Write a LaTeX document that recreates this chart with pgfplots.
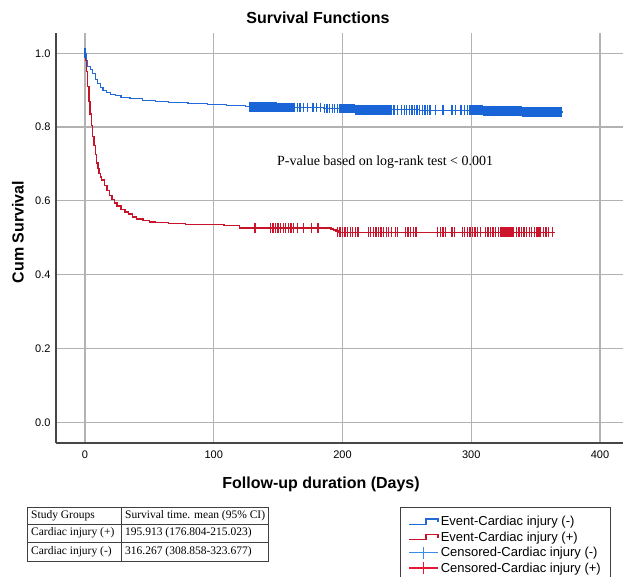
\documentclass[border=0pt]{standalone}
\usepackage{pgfplots}
\pgfplotsset{compat=1.18}
\usepackage{fontspec}
\setmainfont{Liberation Sans}
\newfontfamily\timesf{Liberation Serif}
\definecolor{kmblue}{RGB}{35,105,215}
\definecolor{kmred}{RGB}{200,20,40}
\definecolor{cblue}{RGB}{25,100,215}
\definecolor{cred}{RGB}{205,20,45}
\definecolor{cblueL}{RGB}{55,140,230}
\definecolor{credL}{RGB}{230,25,50}
\definecolor{gridgray}{RGB}{178,178,178}
\definecolor{spine}{RGB}{70,70,70}
\begin{document}
\begin{tikzpicture}[x=1pt,y=1pt]
\useasboundingbox (0,0) rectangle (623,577);
\begin{axis}[
  at={(56pt,134pt)}, anchor=south west,
  width=567pt, height=410pt, scale only axis,
  xmin=-22.5, xmax=417.9, ymin=-0.0561, ymax=1.055,
  axis x line*=bottom, axis y line*=left,
  axis line style={-, draw=spine, line width=1.5pt},
  xtick={0,100,200,300,400}, ytick={0,0.2,0.4,0.6,0.8,1},
  xticklabels={0,100,200,300,400}, yticklabels={0.0,0.2,0.4,0.6,0.8,1.0},
  major tick length=0pt,
  grid=major, major grid style={draw=gridgray, line width=1.2pt},
  tick label style={font=\fontsize{11}{13}\selectfont},
  xticklabel style={yshift=-4pt},
  yticklabel style={xshift=-2pt},
  clip=false,
  legend style={at={(0.6067,-0.156)}, anchor=north west, draw=black!75, line width=0.8pt,
    fill=white, font=\fontsize{13}{16}\selectfont, inner xsep=8pt, inner ysep=7pt,
    row sep=0.5pt, cells={anchor=west}},
]
\addplot[kmblue, line width=1.1pt, const plot,
  legend image code/.code={\draw[draw=kmblue, line width=1.4pt] (0pt,-2.5pt) -- (17pt,-2.5pt) -- (17pt,3pt) -- (29pt,3pt) -- (29pt,-0.5pt);}]
coordinates {(0,1)(1,0.98)(2,0.965)(4,0.955)(6,0.945)(8,0.93)(10,0.918)(12,0.908)(14,0.9)(17,0.894)(20,0.889)(24,0.885)(28,0.881)(35,0.877)(45,0.873)(55,0.869)(65,0.866)(80,0.864)(95,0.861)(110,0.858)(125,0.855)(150,0.853)(185,0.85)(210,0.847)(260,0.846)(310,0.844)(340,0.841)(371,0.841)};
\addlegendentry{Event-Cardiac injury (-)}
\addplot[kmred, line width=1.4pt, const plot,
  legend image code/.code={\draw[draw=kmred, line width=1.4pt] (0pt,-2.5pt) -- (17pt,-2.5pt) -- (17pt,3pt) -- (29pt,3pt) -- (29pt,-0.5pt);}]
coordinates {(0,1)(0.5,0.98)(1,0.95)(2,0.91)(3,0.87)(4,0.835)(5,0.805)(6,0.775)(7,0.75)(8,0.725)(9,0.703)(10,0.688)(11,0.675)(12,0.665)(13,0.657)(15,0.642)(17,0.628)(19,0.615)(21,0.603)(23,0.594)(25,0.586)(28,0.577)(31,0.570)(34,0.564)(37,0.556)(40,0.551)(45,0.547)(50,0.543)(55,0.541)(65,0.539)(78,0.536)(108,0.533)(120,0.527)(191,0.524)(193,0.521)(195,0.518)(197,0.515)(365,0.515)};
\addlegendentry{Event-Cardiac injury (+)}
\addplot[only marks, mark=|, mark size=4.8pt, mark options={cblue, line width=1.3pt},
  legend image code/.code={\draw[draw=cblueL, line width=1.4pt] (0pt,0pt) -- (29pt,0pt) (14.5pt,-6pt) -- (14.5pt,6pt);}]
coordinates {(0,1)
(128,0.855)(129,0.855)(130,0.855)(131,0.855)(132,0.855)(133,0.855)(134,0.855)(135,0.855)(136,0.855)(137,0.855)(138,0.855)(139,0.855)(140,0.855)(141,0.855)(142,0.855)(143,0.855)(144,0.855)(145,0.855)(146,0.855)(147,0.855)(148,0.855)(149,0.855)
(150,0.853)(151,0.853)(152,0.853)(153,0.853)(154,0.853)(155,0.853)(156,0.853)(157,0.853)(158,0.853)(159,0.853)(160,0.853)(161,0.853)(162,0.853)(163,0.853)(165,0.853)(167,0.853)(170,0.853)(173,0.853)(177,0.853)(180,0.853)(183,0.853)
(186,0.85)(188,0.85)(190,0.85)(192,0.85)(194,0.85)(196,0.85)(198,0.85)(199,0.85)(200,0.85)(201,0.85)(202,0.85)(203,0.85)(204,0.85)(205,0.85)(206,0.85)(207,0.85)(208,0.85)(209,0.85)
(210,0.847)(211,0.847)(212,0.847)(213,0.847)(214,0.847)(215,0.847)(216,0.847)(217,0.847)(218,0.847)(219,0.847)(220,0.847)(221,0.847)(222,0.847)(223,0.847)(224,0.847)(225,0.847)(226,0.847)(227,0.847)(228,0.847)(229,0.847)(230,0.847)(231,0.847)(232,0.847)(233,0.847)(234,0.847)(235,0.847)(236,0.847)(237,0.847)(238,0.847)(240,0.847)(243,0.847)(246,0.847)(248,0.847)(250,0.847)(252,0.847)(254,0.847)(256,0.847)(258,0.847)
(260,0.846)(262,0.846)(264,0.846)(266,0.846)(268,0.846)(272,0.846)(278,0.846)(285,0.846)(288,0.846)(292,0.846)(295,0.846)(297,0.846)(299,0.846)(300,0.846)(301,0.846)(302,0.846)(303,0.846)(304,0.846)(305,0.846)(306,0.846)(307,0.846)(308,0.846)(309,0.846)
(310,0.844)(311,0.844)(312,0.844)(313,0.844)(314,0.844)(315,0.844)(316,0.844)(317,0.844)(318,0.844)(319,0.844)(320,0.844)(321,0.844)(322,0.844)(323,0.844)(324,0.844)(325,0.844)(326,0.844)(327,0.844)(328,0.844)(329,0.844)(330,0.844)(331,0.844)(332,0.844)(333,0.844)(334,0.844)(335,0.844)(336,0.844)(337,0.844)(338,0.844)(339,0.844)
(340,0.841)(341,0.841)(342,0.841)(343,0.841)(344,0.841)(345,0.841)(346,0.841)(347,0.841)(348,0.841)(349,0.841)(350,0.841)(351,0.841)(352,0.841)(353,0.841)(354,0.841)(355,0.841)(356,0.841)(357,0.841)(358,0.841)(359,0.841)(360,0.841)(361,0.841)(362,0.841)(363,0.841)(364,0.841)(365,0.841)(366,0.841)(367,0.841)(368,0.841)(369,0.841)(370,0.841)};
\addlegendentry{Censored-Cardiac injury (-)}
\addplot[only marks, mark=|, mark size=4.8pt, mark options={cred, line width=1.3pt},
  legend image code/.code={\draw[draw=credL, line width=1.4pt] (0pt,0pt) -- (29pt,0pt) (14.5pt,-6pt) -- (14.5pt,6pt);}]
coordinates {(132,0.527)(144,0.527)(146,0.527)(148,0.527)(150,0.527)(152,0.527)(154,0.527)(156,0.527)(158,0.527)(160,0.527)(162,0.527)(165,0.527)(170,0.527)(176,0.527)(181,0.527)
(196,0.515)(198,0.515)(200,0.515)(202,0.515)(204,0.515)(206,0.515)(208,0.515)(210,0.515)(212,0.515)(220,0.515)(222,0.515)(224,0.515)(226,0.515)(228,0.515)(230,0.515)(232,0.515)(234,0.515)(236,0.515)(238,0.515)(241,0.515)(243,0.515)(249,0.515)(251,0.515)(253,0.515)(255,0.515)(257,0.515)(274,0.515)(276,0.515)(278,0.515)(280,0.515)(285,0.515)(287,0.515)(293,0.515)(295,0.515)(297,0.515)(299,0.515)(301,0.515)(303,0.515)(305,0.515)(307,0.515)(311,0.515)(313,0.515)(315,0.515)(317,0.515)(319,0.515)(321,0.515)(323,0.515)(324,0.515)(325,0.515)(326,0.515)(327,0.515)(328,0.515)(329,0.515)(330,0.515)(331,0.515)(332,0.515)(333,0.515)(335,0.515)(337,0.515)(339,0.515)(341,0.515)(343,0.515)(345,0.515)(347,0.515)(349,0.515)(351,0.515)(352,0.515)(353,0.515)(354,0.515)(356,0.515)(358,0.515)(360,0.515)(363,0.515)};
\addlegendentry{Censored-Cardiac injury (+)}
\end{axis}
% titles and annotations
\node[font=\bfseries\fontsize{16}{19}\selectfont] at (318,577-18) {Survival Functions};
\node[font=\bfseries\fontsize{16}{19}\selectfont] at (321,577-484) {Follow-up duration (Days)};
\node[rotate=90, font=\bfseries\fontsize{16}{19}\selectfont] at (18,577-232) {Cum Survival};
\node[anchor=west, inner sep=0pt, font=\timesf\fontsize{14}{17}\selectfont] at (277,577-161.7) {P-value based on log-rank test < 0.001};
% summary table
\draw[black!75, line width=0.8pt] (27,577-507) rectangle (268,577-561);
\draw[black!75, line width=0.6pt] (27,577-524) -- (268,577-524) (27,577-542) -- (268,577-542) (121,577-507) -- (121,577-561);
\begin{scope}[every node/.style={anchor=west, inner sep=0pt, font=\timesf\fontsize{11.5}{13}\selectfont}]
\node at (31,577-515.5) {Study Groups};
\node at (125,577-515.5) {Survival time. mean (95\% CI)};
\node at (31,577-533) {Cardiac injury (+)};
\node at (125,577-533) {195.913 (176.804-215.023)};
\node at (31,577-551.5) {Cardiac injury (-)};
\node at (125,577-551.5) {316.267 (308.858-323.677)};
\end{scope}
\end{tikzpicture}
\end{document}
